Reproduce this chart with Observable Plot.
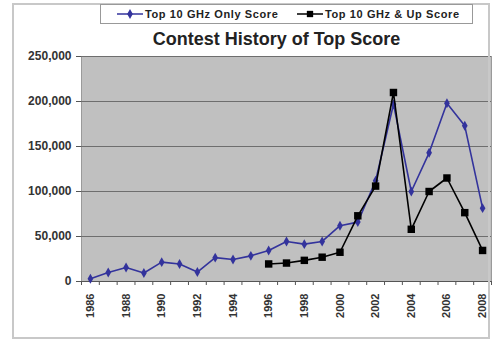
<!DOCTYPE html>
<html>
<head>
<meta charset="utf-8">
<script src="https://cdn.jsdelivr.net/npm/d3@7"></script>
<script src="https://cdn.jsdelivr.net/npm/@observablehq/plot@0.6"></script>
<style>
  body { margin: 0; background: #fff; font-family: Arial, "Liberation Sans", sans-serif; }
  #wrap { position: relative; width: 493px; height: 343px; overflow: hidden; }
  #border { position: absolute; left: 12px; top: 3px; width: 478px; height: 336px; border: 2px solid #c8c8c8; box-sizing: border-box; }
  #legend { position: absolute; left: 100px; top: 4px; width: 373px; height: 20px; border: 1px solid #999; box-sizing: border-box; background: #fff;
            font-size: 11px; font-weight: bold; color: #222; letter-spacing: 0.6px; }
  .item { position: absolute; top: 3px; display: flex; align-items: center; white-space: nowrap; }
  .item svg { margin-right: 2px; }
  #title { position: absolute; left: 0; width: 493px; top: 29px; padding-left: 60px; box-sizing: border-box; text-align: center;
           font-size: 18px; font-weight: bold; color: #222; }
  #chart { position: absolute; left: 0; top: 0; }
</style>
</head>
<body>
<div id="wrap">
  <div id="chart"></div>
  <div id="border"></div>
  <div id="legend"></div>
  <div id="title">Contest History of Top Score</div>
</div>
<script>
const years = d3.range(1986, 2009);
const onlyScores = [3000, 10000, 15500, 9500, 21500, 19500, 10500, 26500, 24500, 28500, 34500, 44500, 41500, 44500, 62000, 66000, 112000, 197000, 100000, 143000, 198000, 173000, 81500];
const upYears = d3.range(1996, 2009);
const upScores = [19500, 20500, 23500, 27000, 32500, 73000, 106000, 210000, 58000, 100000, 115000, 76500, 34500];
const yTicks = [0, 50000, 100000, 150000, 200000, 250000];
const labelYears = d3.range(1986, 2009, 2);
const seriesNames = ["Top 10 GHz Only Score", "Top 10 GHz & Up Score"];
const colors = ["#33339c", "#000000"];

const only = years.map((y, i) => ({year: y, value: onlyScores[i]}));
const up = upYears.map((y, i) => ({year: y, value: upScores[i]}));
const boundaries = d3.range(years.length + 1).map(i => years[0] - 0.5 + i);

const chart = Plot.plot({
  width: 493,
  height: 343,
  marginLeft: 81,
  marginRight: 2,
  marginTop: 56,
  marginBottom: 62,
  style: {background: "transparent", fontFamily: "Arial, 'Liberation Sans', sans-serif"},
  x: {type: "linear", domain: [years[0] - 0.5, years[years.length - 1] + 0.5]},
  y: {domain: [0, 250000]},
  marks: [
    Plot.frame({fill: "#c0c0c0", stroke: "#9a9a9a"}),
    Plot.ruleY(yTicks, {stroke: "#6e6e6e", strokeWidth: 1.2}),
    Plot.axisY({ticks: yTicks, tickFormat: d3.format(","), tickSize: 5, tickPadding: 5, fontSize: 12, fontWeight: "bold", fill: "#333", stroke: "#555", label: null, style: {letterSpacing: "0.4px"}}),
    Plot.axisX({ticks: boundaries, tickFormat: () => "", tickSize: 4, stroke: "#555", label: null}),
    Plot.axisX({ticks: labelYears, tickFormat: d => String(d), tickRotate: -90, tickSize: 0, tickPadding: 12, fontSize: 11, fontWeight: "bold", fill: "#333", label: null, style: {letterSpacing: "1.4px"}}),
    Plot.ruleY([0], {stroke: "#555"}),
    Plot.line(only, {x: "year", y: "value", stroke: colors[0], strokeWidth: 1.6}),
    Plot.dot(only, {x: "year", y: "value", symbol: "diamond", r: 3, fill: colors[0], stroke: "none"}),
    Plot.line(up, {x: "year", y: "value", stroke: colors[1], strokeWidth: 1.6}),
    Plot.dot(up, {x: "year", y: "value", symbol: "square", r: 4.2, fill: colors[1], stroke: "none"})
  ]
});
document.getElementById("chart").appendChild(chart);

// legend
const legend = document.getElementById("legend");
const lefts = [16, 196];
const symbols = [d3.symbolDiamond, d3.symbolSquare];
const sizes = [28, 40];
seriesNames.forEach((name, i) => {
  const item = document.createElement("div");
  item.className = "item";
  item.style.left = lefts[i] + "px";
  const ns = "http://www.w3.org/2000/svg";
  const svg = document.createElementNS(ns, "svg");
  svg.setAttribute("width", 26); svg.setAttribute("height", 12);
  const ln = document.createElementNS(ns, "line");
  ln.setAttribute("x1", 0); ln.setAttribute("x2", 26); ln.setAttribute("y1", 6); ln.setAttribute("y2", 6);
  ln.setAttribute("stroke", colors[i]); ln.setAttribute("stroke-width", 1.5);
  svg.appendChild(ln);
  const p = document.createElementNS(ns, "path");
  p.setAttribute("d", d3.symbol(symbols[i], sizes[i])());
  p.setAttribute("transform", "translate(13,6)");
  p.setAttribute("fill", colors[i]);
  svg.appendChild(p);
  item.appendChild(svg);
  const t = document.createElement("span");
  t.textContent = name;
  item.appendChild(t);
  legend.appendChild(item);
});
</script>
</body>
</html>
